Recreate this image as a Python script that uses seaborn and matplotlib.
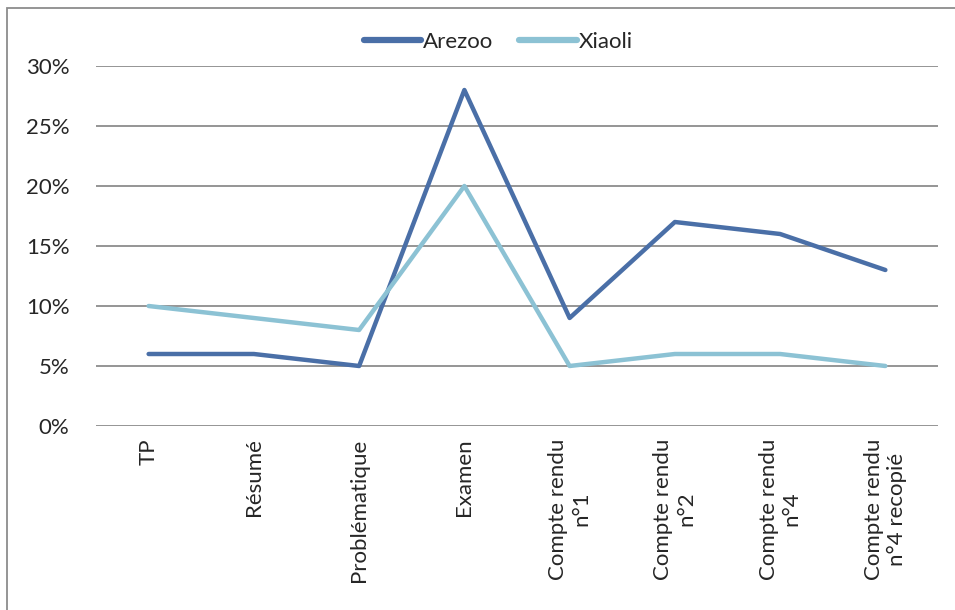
import matplotlib
matplotlib.use("Agg")
import matplotlib.pyplot as plt
import matplotlib.patches as mpatches
from matplotlib.ticker import FuncFormatter, MultipleLocator
import pandas as pd
import seaborn as sns

# Data (percent)
categories = ["TP", "Résumé", "Problématique", "Examen",
              "Compte rendu\nn°1", "Compte rendu\nn°2", "Compte rendu\nn°4",
              "Compte rendu\nn°4 recopié"]
arezoo = [6, 6, 5, 28, 9, 17, 16, 13]
xiaoli = [10, 9, 8, 20, 5, 6, 6, 5]
students = ["Arezoo", "Xiaoli"]
colors = ["#4A6FA7", "#8CC2D4"]

df = pd.DataFrame({"Étape": categories, "Arezoo": arezoo, "Xiaoli": xiaoli})
df_long = df.melt(id_vars="Étape", var_name="Élève", value_name="Part")

sns.set_style("white")
plt.rcParams["font.family"] = ["Lato", "DejaVu Sans"]

fig = plt.figure(figsize=(9.55, 6.10), dpi=100)
ax = fig.add_axes([96 / 955, 1 - 426 / 610, (938 - 96) / 955, (426 - 66) / 610])

sns.lineplot(data=df_long, x="Étape", y="Part", hue="Élève", hue_order=students,
             palette=colors, sort=False, linewidth=3.2, ax=ax)

ax.set_xlim(-0.5, len(categories) - 0.5)
ax.set_ylim(0, 30)
ax.yaxis.set_major_locator(MultipleLocator(5))
ax.yaxis.set_major_formatter(FuncFormatter(lambda v, p: f"{v:.0f}%"))
ax.grid(axis="y", color="#8c8c8c", linewidth=1.3)
ax.set_axisbelow(True)
for s in ax.spines.values():
    s.set_visible(False)
ax.set_xlabel("")
ax.set_ylabel("")
ax.tick_params(axis="y", length=0, pad=19, labelsize=16)
ax.tick_params(axis="x", length=0, pad=9, labelsize=16)
ax.set_xticks(range(len(categories)))
ax.set_xticklabels(categories, rotation=90, ha="center", va="top", multialignment="center")

leg = ax.legend(loc="center", bbox_to_anchor=(498 / 955, 1 - 42 / 610),
                bbox_transform=fig.transFigure, ncol=2, frameon=False,
                fontsize=16, handlelength=2.6, handletextpad=0.05, columnspacing=1.2)
for line in leg.get_lines():
    line.set_linewidth(4.5)

# chart border
fig.patches.append(mpatches.Rectangle((7 / 955, -0.01), 1.0, 1 - 8 / 610 + 0.01,
                                      transform=fig.transFigure, fill=False,
                                      edgecolor="#8c8c8c", linewidth=1.3))

fig.savefig("out.png", dpi=100)
